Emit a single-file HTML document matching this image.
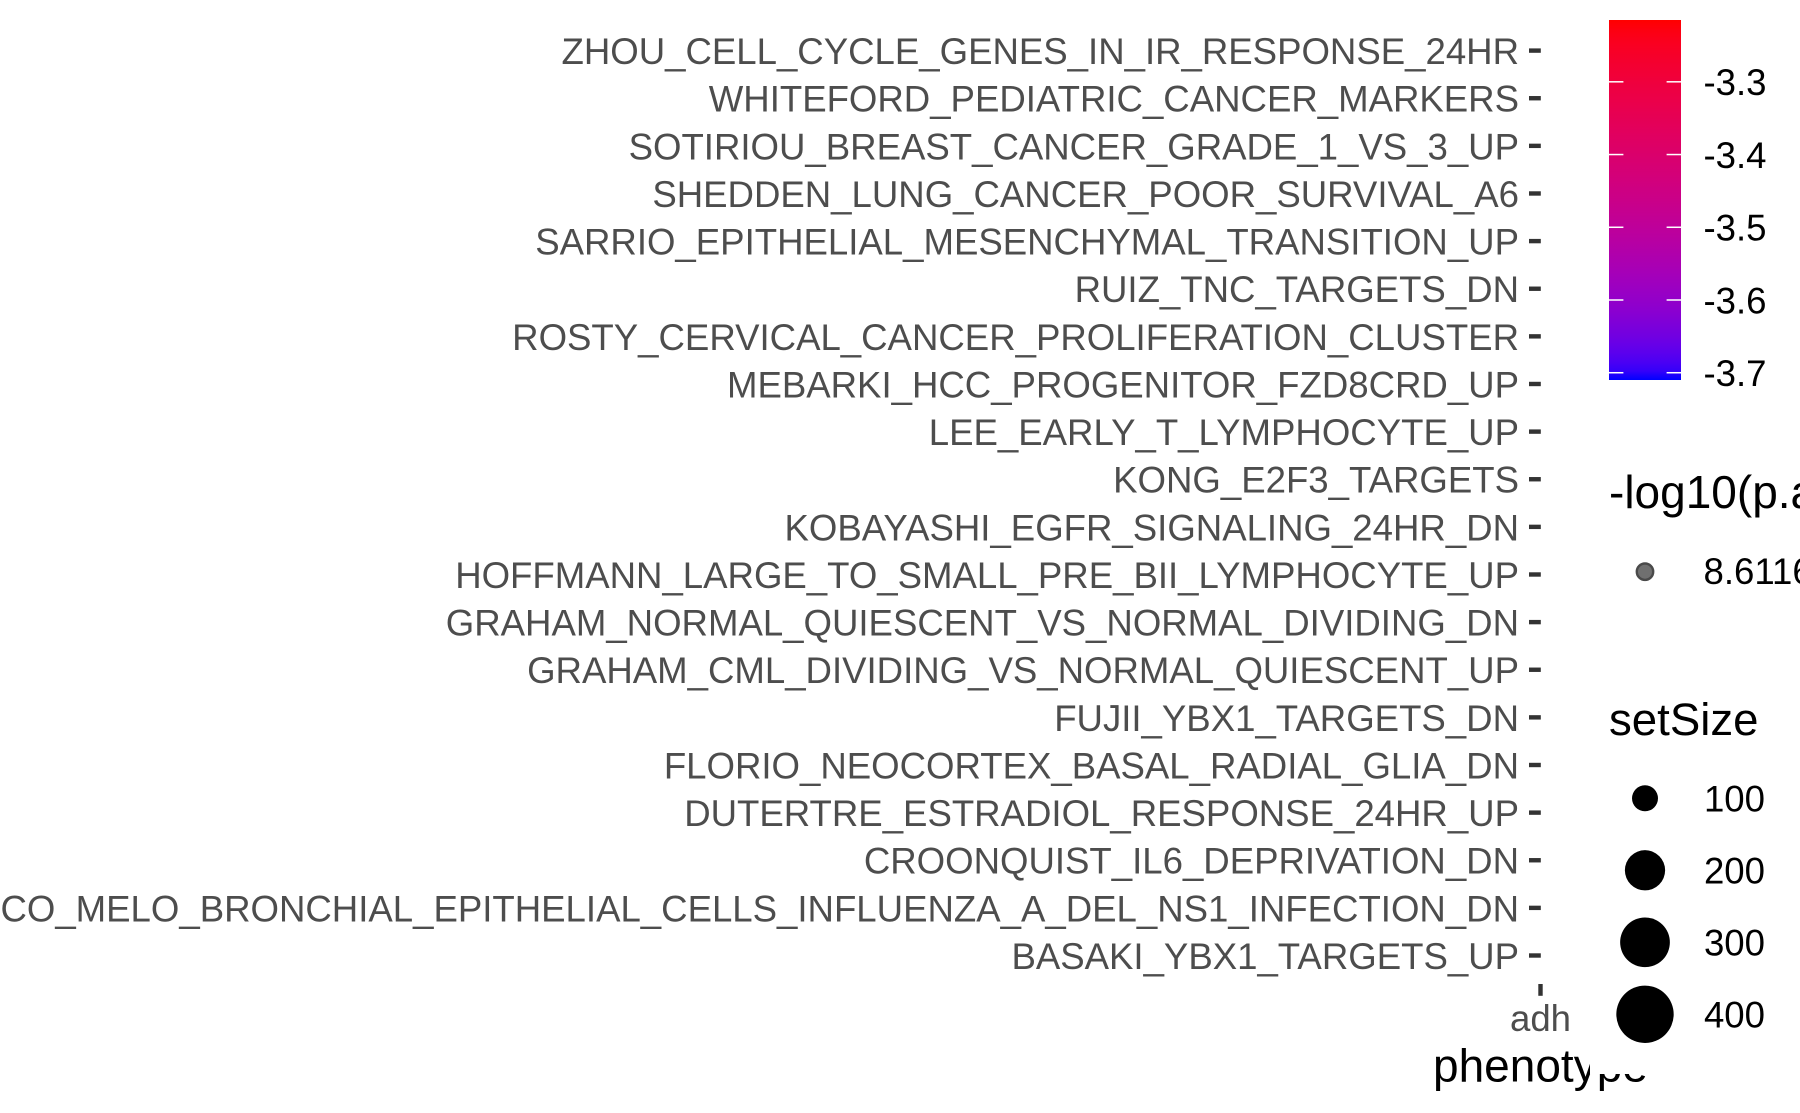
<!DOCTYPE html>
<html lang="en">
<head>
<meta charset="utf-8">
<title>Phenotype dot plot</title>
<style>
html,body{margin:0;padding:0;background:#fff;width:1800px;height:1113px;overflow:hidden}
svg{display:block;font-family:"Liberation Sans",Arial,sans-serif}
</style>
</head>
<body>
<svg id="chart" xmlns="http://www.w3.org/2000/svg" width="1800" height="1113" viewBox="0 0 1800 1113">
<defs><linearGradient id="cbar" x1="0" y1="0" x2="0" y2="1"></linearGradient></defs>
<rect x="0" y="0" width="1800" height="1113" fill="#fff"/>
<g id="yaxis"></g>
<g id="xaxis"></g>
<text x="1433" y="1081.6" font-size="46" fill="#000">phenotype</text>
<rect x="1590" y="0" width="210" height="1074" fill="#fff"/>
<g id="colorlegend"></g>
<g id="plegend"></g>
<g id="sizelegend"></g>
</svg>
<script>
const terms = [
  "BASAKI_YBX1_TARGETS_UP",
  "BLANCO_MELO_BRONCHIAL_EPITHELIAL_CELLS_INFLUENZA_A_DEL_NS1_INFECTION_DN",
  "CROONQUIST_IL6_DEPRIVATION_DN",
  "DUTERTRE_ESTRADIOL_RESPONSE_24HR_UP",
  "FLORIO_NEOCORTEX_BASAL_RADIAL_GLIA_DN",
  "FUJII_YBX1_TARGETS_DN",
  "GRAHAM_CML_DIVIDING_VS_NORMAL_QUIESCENT_UP",
  "GRAHAM_NORMAL_QUIESCENT_VS_NORMAL_DIVIDING_DN",
  "HOFFMANN_LARGE_TO_SMALL_PRE_BII_LYMPHOCYTE_UP",
  "KOBAYASHI_EGFR_SIGNALING_24HR_DN",
  "KONG_E2F3_TARGETS",
  "LEE_EARLY_T_LYMPHOCYTE_UP",
  "MEBARKI_HCC_PROGENITOR_FZD8CRD_UP",
  "ROSTY_CERVICAL_CANCER_PROLIFERATION_CLUSTER",
  "RUIZ_TNC_TARGETS_DN",
  "SARRIO_EPITHELIAL_MESENCHYMAL_TRANSITION_UP",
  "SHEDDEN_LUNG_CANCER_POOR_SURVIVAL_A6",
  "SOTIRIOU_BREAST_CANCER_GRADE_1_VS_3_UP",
  "WHITEFORD_PEDIATRIC_CANCER_MARKERS",
  "ZHOU_CELL_CYCLE_GENES_IN_IR_RESPONSE_24HR"
];
const phenotypes = ["adh"];
const colorTicks = [-3.3, -3.4, -3.5, -3.6, -3.7];
const colorDomain = [-3.71, -3.215];
const pValueBreaks = ["8.6116"];
const sizeBreaks = [100, 200, 300, 400];

const NS = "http://www.w3.org/2000/svg";
function mk(parent, tag, attrs, txt) {
  const e = document.createElementNS(NS, tag);
  for (const k in attrs) e.setAttribute(k, attrs[k]);
  if (txt !== undefined) e.textContent = txt;
  parent.appendChild(e);
  return e;
}
function yScale(i) { return 955.5 - i * (955.5 - 50.6) / (terms.length - 1); }
function xScale(i) { return 1540.5 + i * 60; }
const CB = { top: 20, bottom: 380, left: 1609, right: 1681 };
function colorY(v) {
  return CB.bottom - (v - colorDomain[0]) / (colorDomain[1] - colorDomain[0]) * (CB.bottom - CB.top);
}
function sizeRadius(s) { return 4.8 + 1.295 * Math.sqrt(s - 60); }

/* Lab interpolation, as used by a blue-to-red continuous scale */
function toLin(c) { c /= 255; return c > 0.04045 ? Math.pow((c + 0.055) / 1.055, 2.4) : c / 12.92; }
function fromLin(c) { c = c > 0.0031308 ? 1.055 * Math.pow(c, 1 / 2.4) - 0.055 : 12.92 * c; return Math.round(Math.min(1, Math.max(0, c)) * 255); }
const WP = [0.95047, 1, 1.08883];
function rgb2lab(r, g, b) {
  r = toLin(r); g = toLin(g); b = toLin(b);
  const X = (0.4124564 * r + 0.3575761 * g + 0.1804375 * b) / WP[0];
  const Y = (0.2126729 * r + 0.7151522 * g + 0.0721750 * b) / WP[1];
  const Z = (0.0193339 * r + 0.1191920 * g + 0.9503041 * b) / WP[2];
  const f = t => t > 0.008856 ? Math.cbrt(t) : 7.787 * t + 16 / 116;
  return [116 * f(Y) - 16, 500 * (f(X) - f(Y)), 200 * (f(Y) - f(Z))];
}
function lab2rgb(L, a, b) {
  const fy = (L + 16) / 116, fx = fy + a / 500, fz = fy - b / 200;
  const g = t => t * t * t > 0.008856 ? t * t * t : (t - 16 / 116) / 7.787;
  const X = g(fx) * WP[0], Y = g(fy) * WP[1], Z = g(fz) * WP[2];
  return [
    fromLin(3.2404542 * X - 1.5371385 * Y - 0.4985314 * Z),
    fromLin(-0.9692660 * X + 1.8760108 * Y + 0.0415560 * Z),
    fromLin(0.0556434 * X - 0.2040259 * Y + 1.0572252 * Z)
  ];
}
const LAB_RED = rgb2lab(255, 0, 0), LAB_BLUE = rgb2lab(0, 0, 255);
function colorAt(t) {
  const c = lab2rgb(
    LAB_RED[0] + (LAB_BLUE[0] - LAB_RED[0]) * t,
    LAB_RED[1] + (LAB_BLUE[1] - LAB_RED[1]) * t,
    LAB_RED[2] + (LAB_BLUE[2] - LAB_RED[2]) * t);
  return "rgb(" + c.join(",") + ")";
}

/* y axis */
const yaxis = document.getElementById("yaxis");
terms.forEach((term, i) => {
  const y = yScale(i);
  const tick = mk(yaxis, "rect", { x: 1529, y: y - 2.2, width: 11.8, height: 4.4, fill: "#333333" });
  
  
  const label = mk(yaxis, "text", { x: 1519, y: y + 13.4, "text-anchor": "end", "font-size": 36.6, fill: "#4D4D4D" }, term);
  
  
});

/* x axis */
const xaxis = document.getElementById("xaxis");
phenotypes.forEach((p, i) => {
  const x = xScale(i);
  const tick = mk(xaxis, "rect", { x: x - 2.2, y: 984, width: 4.4, height: 11.8, fill: "#333333" });
  
  
  const label = mk(xaxis, "text", { x: x, y: 1031, "text-anchor": "middle", "font-size": 36.6, fill: "#4D4D4D" }, p);
  
  
});

/* colour legend */
const grad = document.getElementById("cbar");
for (let i = 0; i <= 40; i++) {
  mk(grad, "stop", { offset: (i / 40 * 100) + "%", "stop-color": colorAt(i / 40) });
}
const clg = document.getElementById("colorlegend");
const bar = mk(clg, "rect", { x: CB.left, y: CB.top, width: CB.right - CB.left, height: CB.bottom - CB.top, fill: "url(#cbar)" });


colorTicks.forEach(v => {
  const y = colorY(v);
  [[CB.left, CB.left + 14.4], [CB.right - 14.4, CB.right]].forEach(seg => {
    const t = mk(clg, "line", { x1: seg[0], x2: seg[1], y1: y, y2: y, stroke: "#fff", "stroke-width": 1.5 });
    
    
  });
  const lab = mk(clg, "text", { x: 1703.5, y: y + 13.4, "font-size": 36.6, fill: "#000" }, v.toFixed(1));
  
  
});

/* -log10(p.adjust) legend */
const plg = document.getElementById("plegend");
const pt = mk(plg, "text", { x: 1609, y: 508, "font-size": 46, fill: "#000" }, "-log10(p.adjust)");


pValueBreaks.forEach(v => {
  const dot = mk(plg, "circle", { cx: 1645, cy: 571.7, r: 8.2, fill: "#707070", stroke: "#4A4A4A", "stroke-width": 2.4 });
  
  
  const lab = mk(plg, "text", { x: 1703.5, y: 584, "font-size": 36.6, fill: "#000" }, v);
  
  
});

/* setSize legend */
const slg = document.getElementById("sizelegend");
const st = mk(slg, "text", { x: 1609, y: 735, "font-size": 45.6, fill: "#000" }, "setSize");


sizeBreaks.forEach((s, i) => {
  const cy = 798.3 + i * 72;
  const dot = mk(slg, "circle", { cx: 1645, cy: cy, r: sizeRadius(s), fill: "#000" });
  
  
  const lab = mk(slg, "text", { x: 1765, y: cy + 13.4, "text-anchor": "end", "font-size": 36.6, fill: "#000" }, String(s));
  
  
});
</script>
</body>
</html>
